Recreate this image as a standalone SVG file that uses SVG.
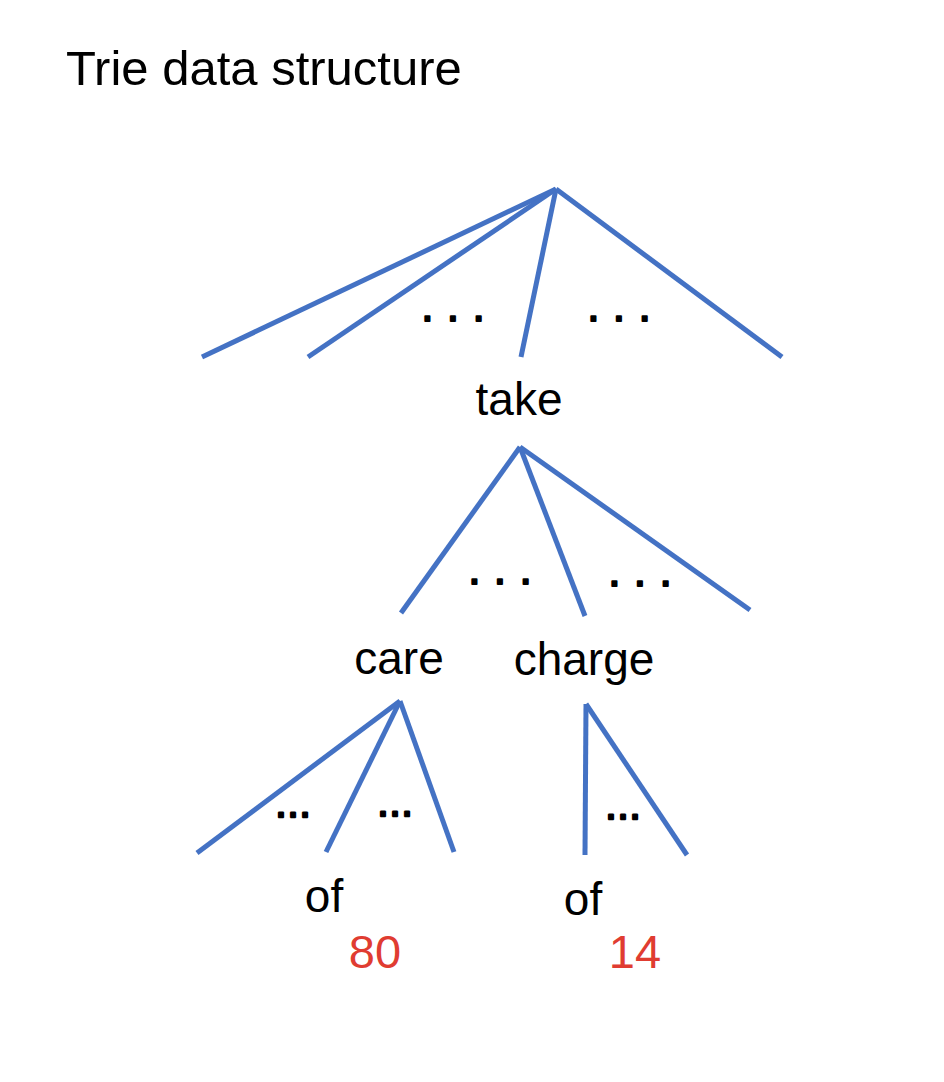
<svg xmlns="http://www.w3.org/2000/svg" width="944" height="1082" viewBox="0 0 944 1082">
<style>
.edge{stroke:#4472C4;stroke-width:5;fill:none;stroke-linecap:butt}
.t{font-family:"Liberation Sans",Arial,sans-serif;fill:#000}
.lbl{font-size:46px;text-anchor:middle}
.dots{font-size:46px;text-anchor:middle;stroke:#000;stroke-width:1.8;stroke-linejoin:round}
.ell{font-size:38px;text-anchor:middle;stroke:#000;stroke-width:2.6;stroke-linejoin:round}
.num{fill:#E03C31;font-size:47px;text-anchor:middle}
</style>
<rect width="944" height="1082" fill="#fff"/>
<text class="t" x="66" y="85" font-size="49">Trie data structure</text>
<g id="connectors">
<line class="edge" x1="556" y1="189" x2="202" y2="357"/>
<line class="edge" x1="556" y1="189" x2="308" y2="357"/>
<line class="edge" x1="556" y1="189" x2="521" y2="357"/>
<line class="edge" x1="556" y1="189" x2="782" y2="357"/>
<line class="edge" x1="520" y1="447" x2="401" y2="613"/>
<line class="edge" x1="520" y1="447" x2="585" y2="616"/>
<line class="edge" x1="520" y1="447" x2="750" y2="610"/>
<line class="edge" x1="400" y1="701" x2="197" y2="853"/>
<line class="edge" x1="400" y1="701" x2="326" y2="852"/>
<line class="edge" x1="400" y1="701" x2="454" y2="852"/>
<line class="edge" x1="586" y1="704" x2="585" y2="855"/>
<line class="edge" x1="586" y1="704" x2="687" y2="855"/>
</g>
<g id="dots">
<text class="t dots" x="453" y="321">. . .</text>
<text class="t dots" x="619" y="321">. . .</text>
<text class="t dots" x="500" y="584">. . .</text>
<text class="t dots" x="640" y="586">. . .</text>
<text class="t ell" x="293" y="817">…</text>
<text class="t ell" x="395" y="816">…</text>
<text class="t ell" x="623" y="819">…</text>
</g>
<g id="node-take"><text class="t lbl" x="519" y="415">take</text></g>
<g id="node-care"><text class="t lbl" x="399" y="674">care</text></g>
<g id="node-charge"><text class="t lbl" x="584" y="675">charge</text></g>
<g id="node-of-1"><text class="t lbl" x="324" y="912" font-size="52">of</text><text class="t num" x="375" y="968">80</text></g>
<g id="node-of-2"><text class="t lbl" x="583" y="915" font-size="52">of</text><text class="t num" x="635" y="968">14</text></g>
</svg>
